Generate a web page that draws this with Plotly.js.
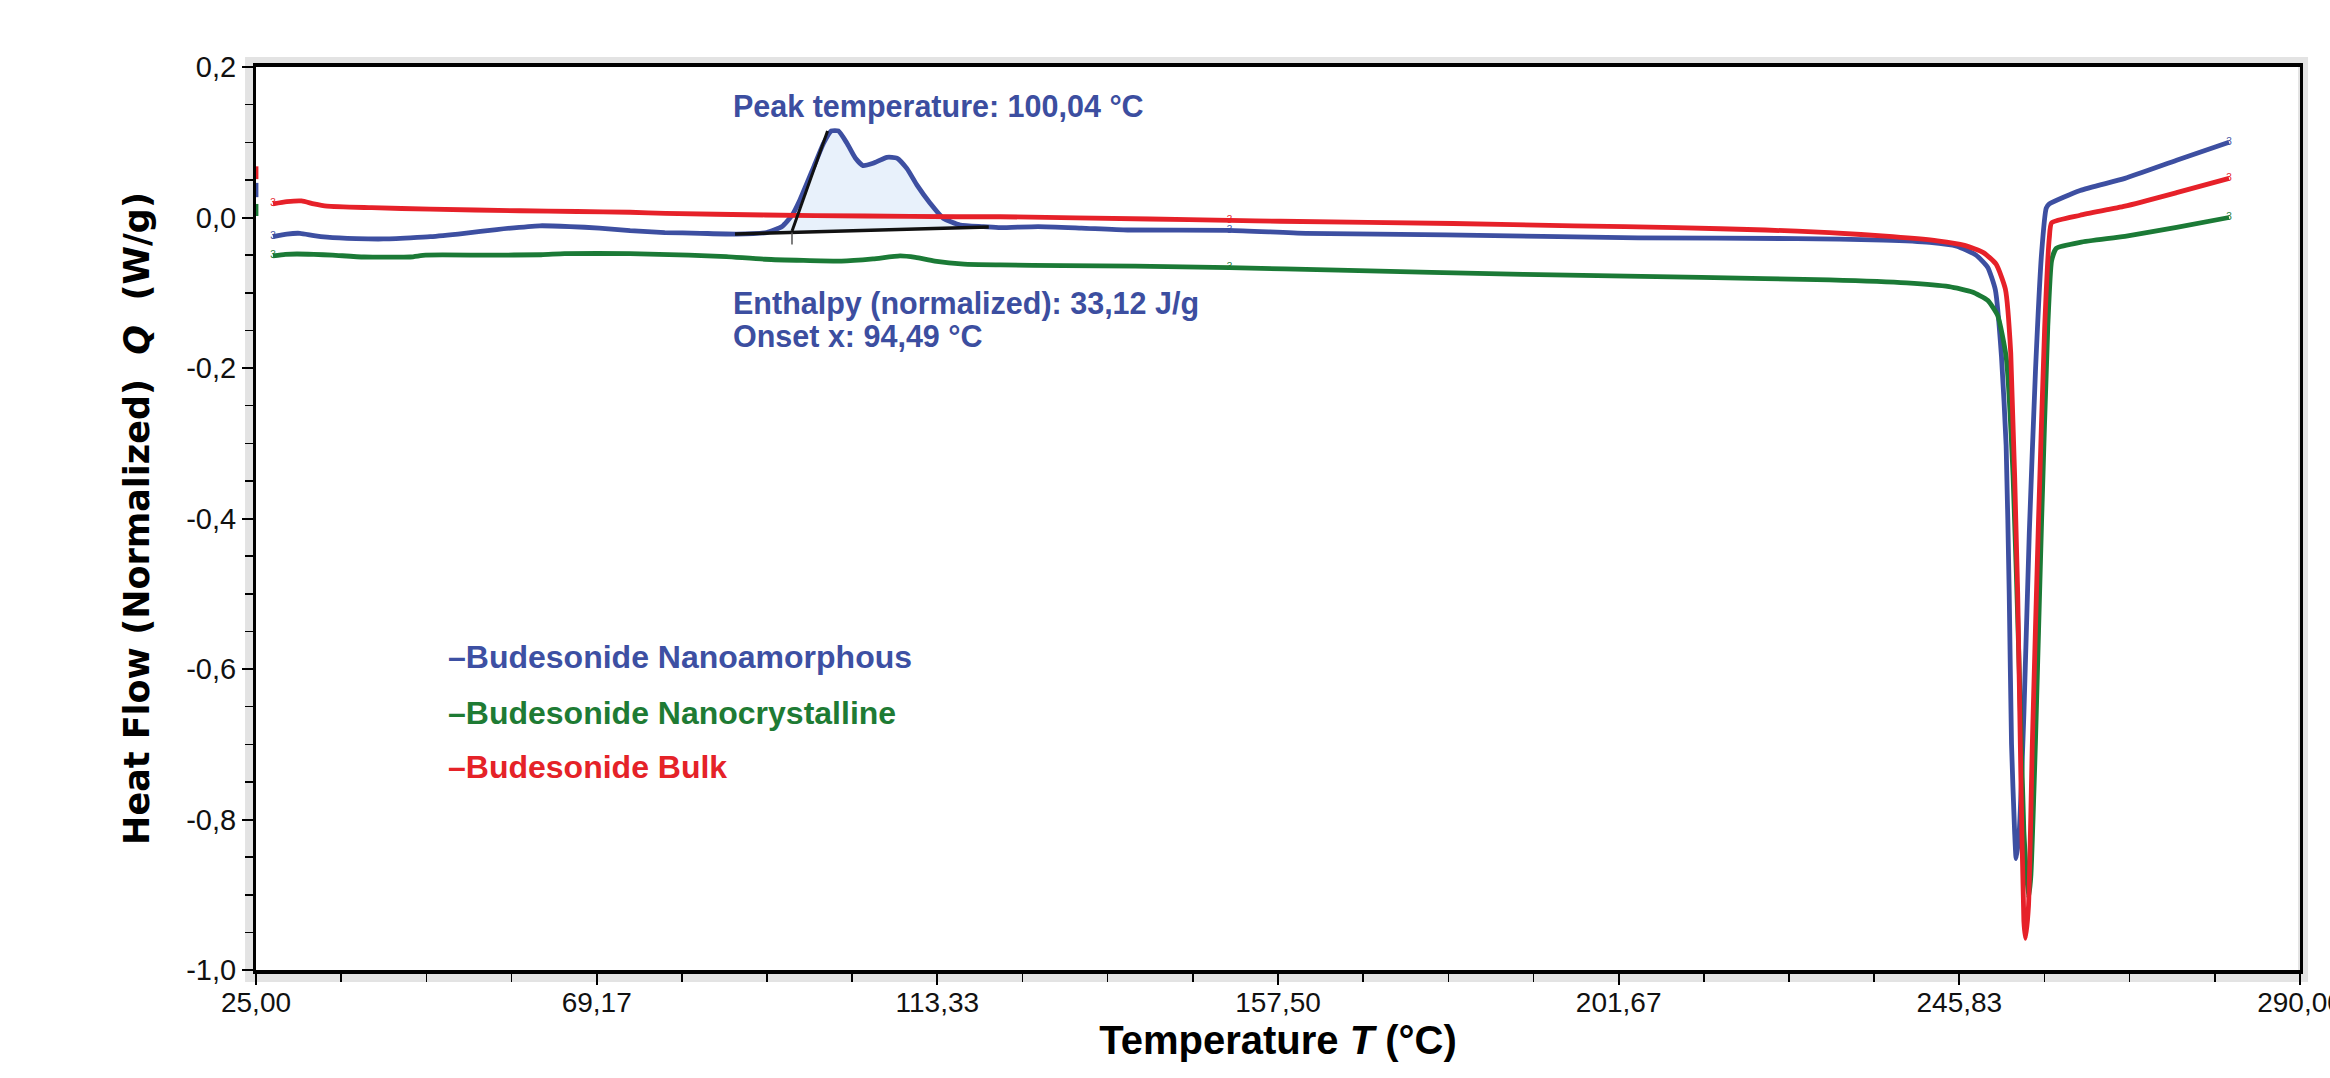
<!DOCTYPE html>
<html>
<head>
<meta charset="utf-8">
<script src="https://cdn.plot.ly/plotly-3.0.1.min.js"></script>
<style>html,body{margin:0;padding:0;background:#fff;}#chart{width:2330px;height:1078px;}</style>
</head>
<body>
<div id="chart"></div>
<script>
// ---- data ----
const xTickVals = [25, 69.1667, 113.3333, 157.5, 201.6667, 245.8333, 290];
const xTickText = ['25,00', '69,17', '113,33', '157,50', '201,67', '245,83', '290,00'];
const yTickVals = [0.2, 0.0, -0.2, -0.4, -0.6, -0.8, -1.0];
const yTickText = ['0,2', '0,0', '-0,2', '-0,4', '-0,6', '-0,8', '-1,0'];

const seriesNames = ['Budesonide Nanoamorphous', 'Budesonide Nanocrystalline', 'Budesonide Bulk'];

const nanoamorphousT = [25, 25, null, 27.2, 29.0, 30.7, 32.5, 34.2, 38.0, 41.5, 45.0, 47.6, 52.0, 56.2, 61.8, 65.7, 69.5, 73.5, 78.0, 82.6, 87.3, 91.2, 93.2, 94.5, 95.5, 97.3, 98.6, 99.6, 100.5, 101.6, 102.7, 103.7, 105.0, 106.8, 108.1, 109.4, 110.7, 112.4, 114.1, 116.3, 119.3, 121.5, 126.4, 132.0, 138.0, 151.2, 161.1, 179.3, 204.2, 224.8, 236.0, 242.0, 245.5, 248.0, 249.5, 250.5, 251.3, 251.9, 252.3, 252.6, 253.0, 253.2, 253.6, 254.2, 254.9, 255.7, 256.5, 257.1, 257.5, 261.5, 267.3, 274.0, 280.8];
const nanoamorphousQ = [0.046, 0.027, null, -0.0255, -0.022, -0.021, -0.024, -0.026, -0.028, -0.0285, -0.027, -0.0255, -0.021, -0.016, -0.011, -0.012, -0.014, -0.0175, -0.020, -0.021, -0.022, -0.020, -0.012, 0.003, 0.023, 0.067, 0.099, 0.115, 0.115, 0.099, 0.079, 0.069, 0.072, 0.080, 0.079, 0.065, 0.043, 0.019, -0.001, -0.010, -0.012, -0.0135, -0.012, -0.014, -0.0166, -0.017, -0.021, -0.023, -0.027, -0.028, -0.030, -0.033, -0.038, -0.050, -0.066, -0.096, -0.185, -0.303, -0.500, -0.700, -0.816, -0.852, -0.816, -0.660, -0.420, -0.205, -0.047, 0.0125, 0.018, 0.036, 0.052, 0.076, 0.100];

const nanocrystallineT = [25, 25, null, 27.2, 28.8, 30.3, 32.5, 34.9, 39.0, 45.0, 47.0, 55.0, 62.0, 65.0, 73.5, 81.1, 86.0, 91.0, 100.9, 105.0, 108.5, 110.5, 113.0, 116.8, 121.5, 129.7, 139.0, 151.2, 165.3, 189.3, 212.4, 229.0, 239.0, 244.5, 247.5, 249.5, 250.8, 251.9, 252.8, 253.6, 254.2, 254.8, 255.1, 255.7, 256.5, 257.3, 257.8, 258.4, 261.5, 267.3, 274.0, 280.8];
const nanocrystallineQ = [0.018, 0.002, null, -0.051, -0.049, -0.0485, -0.049, -0.050, -0.0525, -0.0525, -0.050, -0.050, -0.0495, -0.048, -0.048, -0.050, -0.052, -0.0555, -0.058, -0.055, -0.051, -0.053, -0.058, -0.062, -0.063, -0.064, -0.0645, -0.0667, -0.070, -0.0755, -0.0795, -0.083, -0.087, -0.092, -0.099, -0.110, -0.130, -0.185, -0.343, -0.600, -0.816, -0.905, -0.876, -0.698, -0.402, -0.145, -0.057, -0.041, -0.033, -0.025, -0.013, 0.000];

const bulkT = [25, 25, null, 27.2, 29.0, 30.9, 32.5, 34.2, 40.0, 47.6, 59.2, 66.6, 73.5, 78.1, 91.0, 104.0, 115.8, 121.5, 140.9, 151.2, 157.8, 180.2, 195.9, 209.1, 220.7, 229.0, 237.2, 243.0, 246.5, 249.0, 250.6, 251.8, 252.5, 253.4, 253.8, 254.2, 254.4, 254.8, 255.3, 256.1, 256.9, 257.5, 257.8, 261.5, 267.3, 274.0, 280.8];
const bulkQ = [0.068, 0.051, null, 0.018, 0.021, 0.022, 0.018, 0.015, 0.013, 0.011, 0.009, 0.008, 0.007, 0.0055, 0.0033, 0.002, 0.001, 0.001, -0.002, -0.0038, -0.005, -0.008, -0.011, -0.0135, -0.0166, -0.020, -0.0255, -0.031, -0.037, -0.047, -0.062, -0.095, -0.180, -0.500, -0.737, -0.935, -0.958, -0.915, -0.698, -0.402, -0.145, -0.027, -0.007, 0.003, 0.015, 0.033, 0.052];

// temperatures where the curve-ID glyphs sit on each curve
const idMarkT = [27.2, 151.2, 280.8];

// peak integration construction (baseline, onset tangent)
const baselineT = [87.1, 120.0];
const baselineQ = [-0.022, -0.0126];
const tangentT = [94.5, 99.1];
const tangentQ = [-0.018, 0.115];
const onsetT = [94.49, 94.49];
const onsetQ = [-0.020, -0.036];

const peakText = 'Peak temperature: 100,04 °C';
const enthalpyText = 'Enthalpy (normalized): 33,12 J/g';
const onsetText = 'Onset x: 94,49 °C';

// ---- styling ----
const cBlue = '#3d4fa1', cGreen = '#1b7a36', cRed = '#e62129';
const txtBlue = '#3c4ea0';
const FONT = 'Liberation Sans, Arial, sans-serif';

// fill polygon: blue curve within baseline span + baseline back
const fillT = [], fillQ = [];
nanoamorphousT.forEach((t, i) => {
  if (t !== null && t >= baselineT[0] && t <= baselineT[1]) { fillT.push(t); fillQ.push(nanoamorphousQ[i]); }
});
fillT.push(baselineT[1], baselineT[0]);
fillQ.push(baselineQ[1], baselineQ[0]);

function idMarks(T, Q, color) {
  const xs = [], ys = [];
  idMarkT.forEach(t => { const i = T.indexOf(t); if (i >= 0) { xs.push(T[i]); ys.push(Q[i]); } });
  return {x: xs, y: ys, mode: 'text', text: xs.map(() => '3'), textposition: 'middle center',
          textfont: {family: FONT, size: 10, color: color}, hoverinfo: 'skip', showlegend: false};
}

const lw = 4.8;
const shp = {shape: 'spline', smoothing: 0.5};
const traces = [
  {x: fillT, y: fillQ, mode: 'lines', fill: 'toself', fillcolor: 'rgba(214,230,247,0.55)', line: {width: 0, shape: 'spline', smoothing: 0.5}, hoverinfo: 'skip', showlegend: false},
  {x: nanoamorphousT, y: nanoamorphousQ, name: seriesNames[0], mode: 'lines', line: Object.assign({color: cBlue, width: lw}, shp), connectgaps: false, showlegend: false},
  {x: nanocrystallineT, y: nanocrystallineQ, name: seriesNames[1], mode: 'lines', line: Object.assign({color: cGreen, width: lw}, shp), connectgaps: false, showlegend: false},
  {x: bulkT, y: bulkQ, name: seriesNames[2], mode: 'lines', line: Object.assign({color: cRed, width: lw}, shp), connectgaps: false, showlegend: false},
  idMarks(nanoamorphousT, nanoamorphousQ, cBlue),
  idMarks(nanocrystallineT, nanocrystallineQ, cGreen),
  idMarks(bulkT, bulkQ, cRed),
  {x: baselineT, y: baselineQ, mode: 'lines', line: {color: '#111', width: 3.5}, showlegend: false},
  {x: tangentT, y: tangentQ, mode: 'lines', line: {color: '#111', width: 3}, showlegend: false},
  {x: onsetT, y: onsetQ, mode: 'lines', line: {color: '#555', width: 1.5}, showlegend: false}
];

const annotations = [
  {x: 86.6, y: 0.147, xref: 'x', yref: 'y', xanchor: 'left', yanchor: 'middle', showarrow: false, text: '<b>' + peakText + '</b>', font: {family: FONT, size: 30.5, color: txtBlue}},
  {x: 86.6, y: -0.114, xref: 'x', yref: 'y', xanchor: 'left', yanchor: 'middle', showarrow: false, text: '<b>' + enthalpyText + '</b>', font: {family: FONT, size: 30.5, color: txtBlue}},
  {x: 86.6, y: -0.158, xref: 'x', yref: 'y', xanchor: 'left', yanchor: 'middle', showarrow: false, text: '<b>' + onsetText + '</b>', font: {family: FONT, size: 30.5, color: txtBlue}},
  {x: 49.6, y: -0.584, xref: 'x', yref: 'y', xanchor: 'left', yanchor: 'middle', showarrow: false, text: '<b>\u2013' + seriesNames[0] + '</b>', font: {family: FONT, size: 32, color: '#3d50a3'}},
  {x: 49.6, y: -0.658, xref: 'x', yref: 'y', xanchor: 'left', yanchor: 'middle', showarrow: false, text: '<b>\u2013' + seriesNames[1] + '</b>', font: {family: FONT, size: 32, color: '#1e7b34'}},
  {x: 49.6, y: -0.730, xref: 'x', yref: 'y', xanchor: 'left', yanchor: 'middle', showarrow: false, text: '<b>\u2013' + seriesNames[2] + '</b>', font: {family: FONT, size: 32, color: '#e52228'}}
];

const layout = {
  width: 2330, height: 1078, autosize: false,
  margin: {l: 256, r: 30, t: 67, b: 108, pad: 0},
  paper_bgcolor: '#ffffff', plot_bgcolor: '#ffffff',
  showlegend: false,
  font: {family: FONT, color: '#000'},
  xaxis: {
    range: [25, 290], tickmode: 'array', tickvals: xTickVals, ticktext: xTickText,
    ticks: 'outside', ticklen: 11, tickwidth: 2, tickcolor: '#000',
    showline: true, linewidth: 4, linecolor: '#000', mirror: true,
    showgrid: false, zeroline: false, ticklabeloverflow: 'allow', ticklabelstandoff: -7,
    tickfont: {family: FONT, size: 28, color: '#111'},
    minor: {ticks: 'outside', tickmode: 'linear', tick0: 25, dtick: 265 / 24, ticklen: 8, tickwidth: 1.5, tickcolor: '#000', showgrid: false},
    title: {text: '<b>Temperature <i>T</i> (°C)</b>', font: {family: FONT, size: 40, color: '#000'}, standoff: 0},
    automargin: false
  },
  yaxis: {
    range: [-1.0, 0.2], tickmode: 'array', tickvals: yTickVals, ticktext: yTickText,
    ticks: 'outside', ticklen: 11, tickwidth: 2, tickcolor: '#000',
    showline: true, linewidth: 3, linecolor: '#000', mirror: true,
    showgrid: false, zeroline: false,
    tickfont: {family: FONT, size: 29, color: '#111'},
    minor: {ticks: 'outside', tickmode: 'linear', tick0: 0, dtick: 0.05, ticklen: 8, tickwidth: 1.5, tickcolor: '#000', showgrid: false},
    title: {text: '<b>Heat Flow (Normalized)\u00a0\u00a0<i>Q</i>\u00a0\u00a0(W/g)</b>', font: {family: 'DejaVu Sans, Verdana, sans-serif', size: 35, color: '#000'}, standoff: 26},
    automargin: false
  },
  shapes: [
    {type: 'rect', xref: 'paper', yref: 'paper', x0: -0.0029, x1: 1.0015, y0: -0.0078, y1: 1.0055,
     line: {color: '#e3e3e3', width: 10}, fillcolor: 'rgba(0,0,0,0)', layer: 'below'}
  ],
  annotations: annotations
};

Plotly.newPlot('chart', traces, layout, {displayModeBar: false, staticPlot: true});
</script>
</body>
</html>
